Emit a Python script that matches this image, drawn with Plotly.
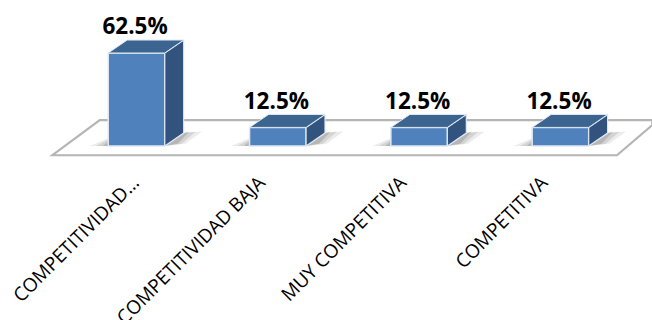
import plotly.graph_objects as go

categories = ["COMPETITIVIDAD...", "COMPETITIVIDAD BAJA", "MUY COMPETITIVA", "COMPETITIVA"]
values = [62.5, 12.5, 12.5, 12.5]
value_labels = ["62.5%", "12.5%", "12.5%", "12.5%"]
label_shifts = [0.02, 0.13, 0.13, 0.13]

BAR_W = 0.40
DEPTH_X = 0.134
DEPTH_Y = 8.7
FRONT = "#4f81bd"
SIDE = "#31537d"
TOP = "#3b6491"
EDGE = "#dfe8f3"
positions = list(range(len(categories)))

fig = go.Figure()

# Front faces
fig.add_trace(go.Bar(
    x=positions, y=values, width=BAR_W,
    marker=dict(color=FRONT, line=dict(color=EDGE, width=1.5)),
    hoverinfo="skip",
))

# Side and top faces of each box, offset from the front face by the depth
for p, v in zip(positions, values):
    left, right = p - BAR_W / 2, p + BAR_W / 2
    fig.add_trace(go.Scatter(
        x=[right, right + DEPTH_X, right + DEPTH_X, right, right],
        y=[0, DEPTH_Y, v + DEPTH_Y, v, 0],
        mode="lines", fill="toself", fillcolor=SIDE,
        line=dict(color=EDGE, width=1.2), hoverinfo="skip",
    ))
    fig.add_trace(go.Scatter(
        x=[left, left + DEPTH_X, right + DEPTH_X, right, left],
        y=[v, v + DEPTH_Y, v + DEPTH_Y, v, v],
        mode="lines", fill="toself", fillcolor=TOP,
        line=dict(color=EDGE, width=1.0), hoverinfo="skip",
    ))

# Value labels above the boxes
fig.add_trace(go.Scatter(
    x=[p - 0.01 for p in positions], y=[v + DEPTH_Y + 0.2 for v in values],
    mode="text", text=value_labels, textposition="top center",
    textfont=dict(family="Open Sans", size=22.5, color="#000000", weight="bold"),
    hoverinfo="skip",
))

shapes = []
# Floor of the chart, behind the boxes
shapes.append(dict(
    type="path", layer="below",
    path="M -0.595,-6.2 L -0.26,17.4 L 3.65,17.4 L 3.65,14 L 3.4,-6.2 Z",
    fillcolor="#ffffff", line=dict(color="#b5b5b5", width=2.2),
))
# Soft contact shadows on the floor
for p in positions:
    left, right = p - BAR_W / 2, p + BAR_W / 2
    for grow, alpha in ((0.13, 0.12), (0.085, 0.16), (0.04, 0.24)):
        shapes.append(dict(
            type="path", layer="below",
            path=(f"M {left - grow},0 L {left},{2 + grow * 25} L {left},0 Z"),
            fillcolor=f"rgba(90,90,90,{alpha})", line=dict(width=0),
        ))
        shapes.append(dict(
            type="path", layer="below",
            path=(f"M {right},0 L {right + DEPTH_X},{DEPTH_Y} "
                  f"L {right + DEPTH_X + grow},{DEPTH_Y + 1} "
                  f"L {right + DEPTH_X * 0.5 + grow * 0.6},{1.5} Z"),
            fillcolor=f"rgba(90,90,90,{alpha})", line=dict(width=0),
        ))

fig.update_layout(
    width=652, height=320,
    margin=dict(l=0, r=0, t=0, b=160, pad=0, autoexpand=False),
    paper_bgcolor="#ffffff", plot_bgcolor="#ffffff",
    showlegend=False, shapes=shapes,
    xaxis=dict(
        range=[-0.966, 3.648], tickmode="array",
        tickvals=[p - s for p, s in zip(positions, label_shifts)], ticktext=categories,
        tickangle=-45, ticks="outside", ticklen=3, tickcolor="rgba(0,0,0,0)",
        tickfont=dict(family="Open Sans", size=19, color="#000000"),
        showgrid=False, zeroline=False, showline=False,
        automargin=False, ticklabeloverflow="allow",
    ),
    yaxis=dict(range=[-9.4, 98.1], visible=False),
)

fig.write_html("out.html")
